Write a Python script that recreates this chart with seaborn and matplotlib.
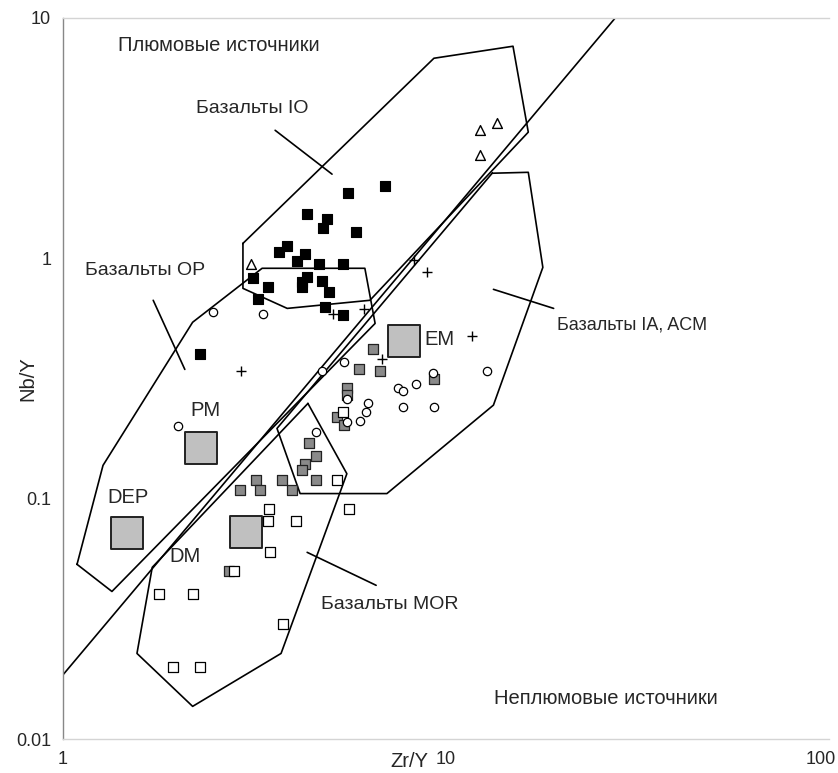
import matplotlib
matplotlib.use("Agg")
import matplotlib.pyplot as plt
import matplotlib.transforms as mtransforms
import seaborn as sns
from matplotlib.ticker import NullLocator, FixedLocator, FixedFormatter

# ---------------- data ----------------
# Black squares (Базальты IO)
io_x = [5.55, 6.93, 4.34, 4.89, 4.77, 5.82, 3.85, 3.66, 4.28, 4.08, 4.66, 5.38,
        3.13, 4.34, 4.21, 4.21, 4.75, 3.43, 4.95, 3.23, 4.83, 5.38, 2.28]
io_y = [1.865, 1.994, 1.524, 1.453, 1.333, 1.283, 1.122, 1.059, 1.039, 0.972, 0.944, 0.944,
        0.826, 0.834, 0.795, 0.757, 0.802, 0.757, 0.722, 0.675, 0.625, 0.579, 0.399]

# Open triangles
tri_x = [3.10, 12.3, 13.6, 12.3]
tri_y = [0.95, 3.41, 3.65, 2.68]

# Plus signs
plus_x = [2.92, 5.07, 6.11, 8.25, 8.92, 11.7, 6.81]
plus_y = [0.339, 0.585, 0.613, 0.981, 0.874, 0.474, 0.380]

# Open circles
circ_x = [2.46, 3.33, 2.00, 5.42, 4.75, 9.25, 12.8, 7.49, 7.72, 8.35, 5.51, 6.26,
          6.18, 5.51, 5.96, 7.72, 9.30, 4.58]
circ_y = [0.596, 0.585, 0.200, 0.369, 0.339, 0.332, 0.339, 0.290, 0.280, 0.299, 0.261, 0.249,
          0.229, 0.208, 0.210, 0.240, 0.240, 0.189]

# Gray squares
gray_x = [6.45, 5.93, 6.72, 9.30, 5.51, 5.51, 5.19, 5.42, 4.39, 4.58, 4.28, 4.21,
          4.58, 3.19, 3.73, 2.90, 3.27, 3.96, 2.71]
gray_y = [0.418, 0.348, 0.339, 0.314, 0.290, 0.269, 0.218, 0.202, 0.170, 0.150, 0.140, 0.131,
          0.120, 0.120, 0.120, 0.109, 0.109, 0.109, 0.0498]

# Open squares
osq_x = [5.38, 5.19, 3.45, 3.43, 4.06, 5.58, 3.47, 2.80, 1.78, 2.18, 3.75, 1.94, 2.28]
osq_y = [0.229, 0.120, 0.0902, 0.0804, 0.0804, 0.0902, 0.0598, 0.0498, 0.040, 0.040, 0.030, 0.020, 0.020]

# Reference reservoirs (large gray boxes)
ref_names = ["PM", "DEP", "DM", "EM"]
ref_x = [2.29, 1.47, 3.00, 7.77]
ref_y = [0.162, 0.0717, 0.0724, 0.452]
ref_lab_x = [2.35, 1.48, 2.08, 9.64]
ref_lab_y = [0.233, 0.1012, 0.0575, 0.460]

# Field polygons
op_x = [1.088, 1.272, 2.18, 3.31, 6.14, 6.53, 1.342]
op_y = [0.0533, 0.1376, 0.542, 0.909, 0.909, 0.536, 0.0411]
iop_x = [2.95, 2.95, 3.85, 6.33, 16.4, 14.96, 9.30]
iop_y = [1.154, 0.750, 0.619, 0.669, 3.35, 7.63, 6.80]
ia_x = [13.2, 16.4, 17.9, 13.3, 7.01, 4.16, 3.62]
ia_y = [2.26, 2.28, 0.917, 0.245, 0.105, 0.105, 0.196]
mor_x = [4.36, 5.51, 3.71, 2.18, 1.56, 1.71]
mor_y = [0.249, 0.127, 0.0227, 0.01367, 0.0227, 0.0518]

# Plume / non-plume divider
div_x = [0.98, 27.6]
div_y = [0.0178, 9.96]

# Leader lines
lead_io_x, lead_io_y = [3.58, 5.04], [3.41, 2.24]
lead_op_x, lead_op_y = [1.72, 2.08], [0.669, 0.345]
lead_ia_x, lead_ia_y = [13.3, 19.1], [0.743, 0.619]
lead_mor_x, lead_mor_y = [4.34, 6.57], [0.0598, 0.0436]

# Labels
labels = ["Плюмовые источники", "Базальты IO", "Базальты OP", "Базальты IA, ACM",
          "Базальты MOR", "Неплюмовые источники"]
label_x = [2.55, 3.12, 1.64, 30.6, 7.14, 26.2]
label_y = [7.70, 4.21, 0.891, 0.526, 0.0363, 0.01476]
label_size = [14.5, 14, 14, 13, 14, 14.5]

x_ticks = [1, 10, 100]
x_tick_labels = ["1", "10", "100"]
y_ticks = [0.01, 0.1, 1, 10]
y_tick_labels = ["0.01", "0.1", "1", "10"]

# ---------------- plot ----------------
sns.set_style("white")
plt.rcParams["font.family"] = ["Liberation Sans", "DejaVu Sans"]

fig = plt.figure(figsize=(8.38, 7.73), dpi=100)
ax = fig.add_axes([63 / 838, 1 - 739 / 773, (829 - 63) / 838, (739 - 18) / 773])
ax.set_xscale("log")
ax.set_yscale("log")
ax.set_xlim(1, 100)
ax.set_ylim(0.01, 10)

lw = 1.2
for px, py in [(op_x, op_y), (iop_x, iop_y), (ia_x, ia_y), (mor_x, mor_y)]:
    ax.plot(px + px[:1], py + py[:1], color="black", lw=lw, zorder=2)
ax.plot(div_x, div_y, color="black", lw=lw, zorder=2)
for lx, ly in [(lead_io_x, lead_io_y), (lead_op_x, lead_op_y),
               (lead_ia_x, lead_ia_y), (lead_mor_x, lead_mor_y)]:
    ax.plot(lx, ly, color="black", lw=lw, zorder=2)

# reference boxes
sns.scatterplot(x=ref_x, y=ref_y, marker="s", s=560, color="#c0c0c0",
                edgecolor="#222222", linewidth=1.4, ax=ax, zorder=3)
for n, x, y in zip(ref_names, ref_lab_x, ref_lab_y):
    ax.text(x, y, n, ha="center", va="center", fontsize=14.5, zorder=5)

ms = 42
sns.scatterplot(x=gray_x, y=gray_y, marker="s", s=ms, color="#8a8a8a",
                edgecolor="#222222", linewidth=0.9, ax=ax, zorder=4)
sns.scatterplot(x=osq_x, y=osq_y, marker="s", s=ms, color="white",
                edgecolor="black", linewidth=0.9, ax=ax, zorder=4)
sns.scatterplot(x=circ_x, y=circ_y, marker="o", s=36, color="white",
                edgecolor="black", linewidth=0.9, ax=ax, zorder=4)
sns.scatterplot(x=io_x, y=io_y, marker="s", s=ms, color="black",
                edgecolor="black", linewidth=0.8, ax=ax, zorder=4)
sns.scatterplot(x=tri_x, y=tri_y, marker="^", s=50, color="white",
                edgecolor="black", linewidth=1.0, ax=ax, zorder=4)
sns.scatterplot(x=plus_x, y=plus_y, marker="+", s=60, color="black",
                linewidth=1.0, ax=ax, zorder=4)

for t, x, y, fs in zip(labels, label_x, label_y, label_size):
    ax.text(x, y, t, ha="center", va="center", fontsize=fs, zorder=5)

# axes styling
ax.xaxis.set_major_locator(FixedLocator(x_ticks))
ax.xaxis.set_major_formatter(FixedFormatter(x_tick_labels))
ax.yaxis.set_major_locator(FixedLocator(y_ticks))
ax.yaxis.set_major_formatter(FixedFormatter(y_tick_labels))
ax.xaxis.set_minor_locator(NullLocator())
ax.yaxis.set_minor_locator(NullLocator())
ax.tick_params(axis="both", which="major", labelsize=13, length=5,
               direction="out", color="#888888", width=0.8)
ax.tick_params(axis="x", pad=4)

# keep the "100" label inside the canvas
fig.canvas.draw()
last = ax.get_xticklabels()[-1]
last.set_transform(last.get_transform() +
                   mtransforms.ScaledTranslation(-8 / 100, 0, fig.dpi_scale_trans))

for side in ["top", "bottom"]:
    ax.spines[side].set_color("#d4d4d4")
    ax.spines[side].set_linewidth(1.0)
ax.spines["left"].set_color("#888888")
ax.spines["left"].set_linewidth(1.0)
ax.spines["right"].set_visible(False)

ax.set_xlabel("Zr/Y", fontsize=14.5)
ax.set_ylabel("Nb/Y", fontsize=14.5)
ax.xaxis.set_label_coords(0.452, -0.018, transform=ax.transAxes)
ax.xaxis.label.set_va("top")
ax.yaxis.set_label_coords(-0.033, 0.5, transform=ax.transAxes)

fig.savefig("out.png", dpi=100)
